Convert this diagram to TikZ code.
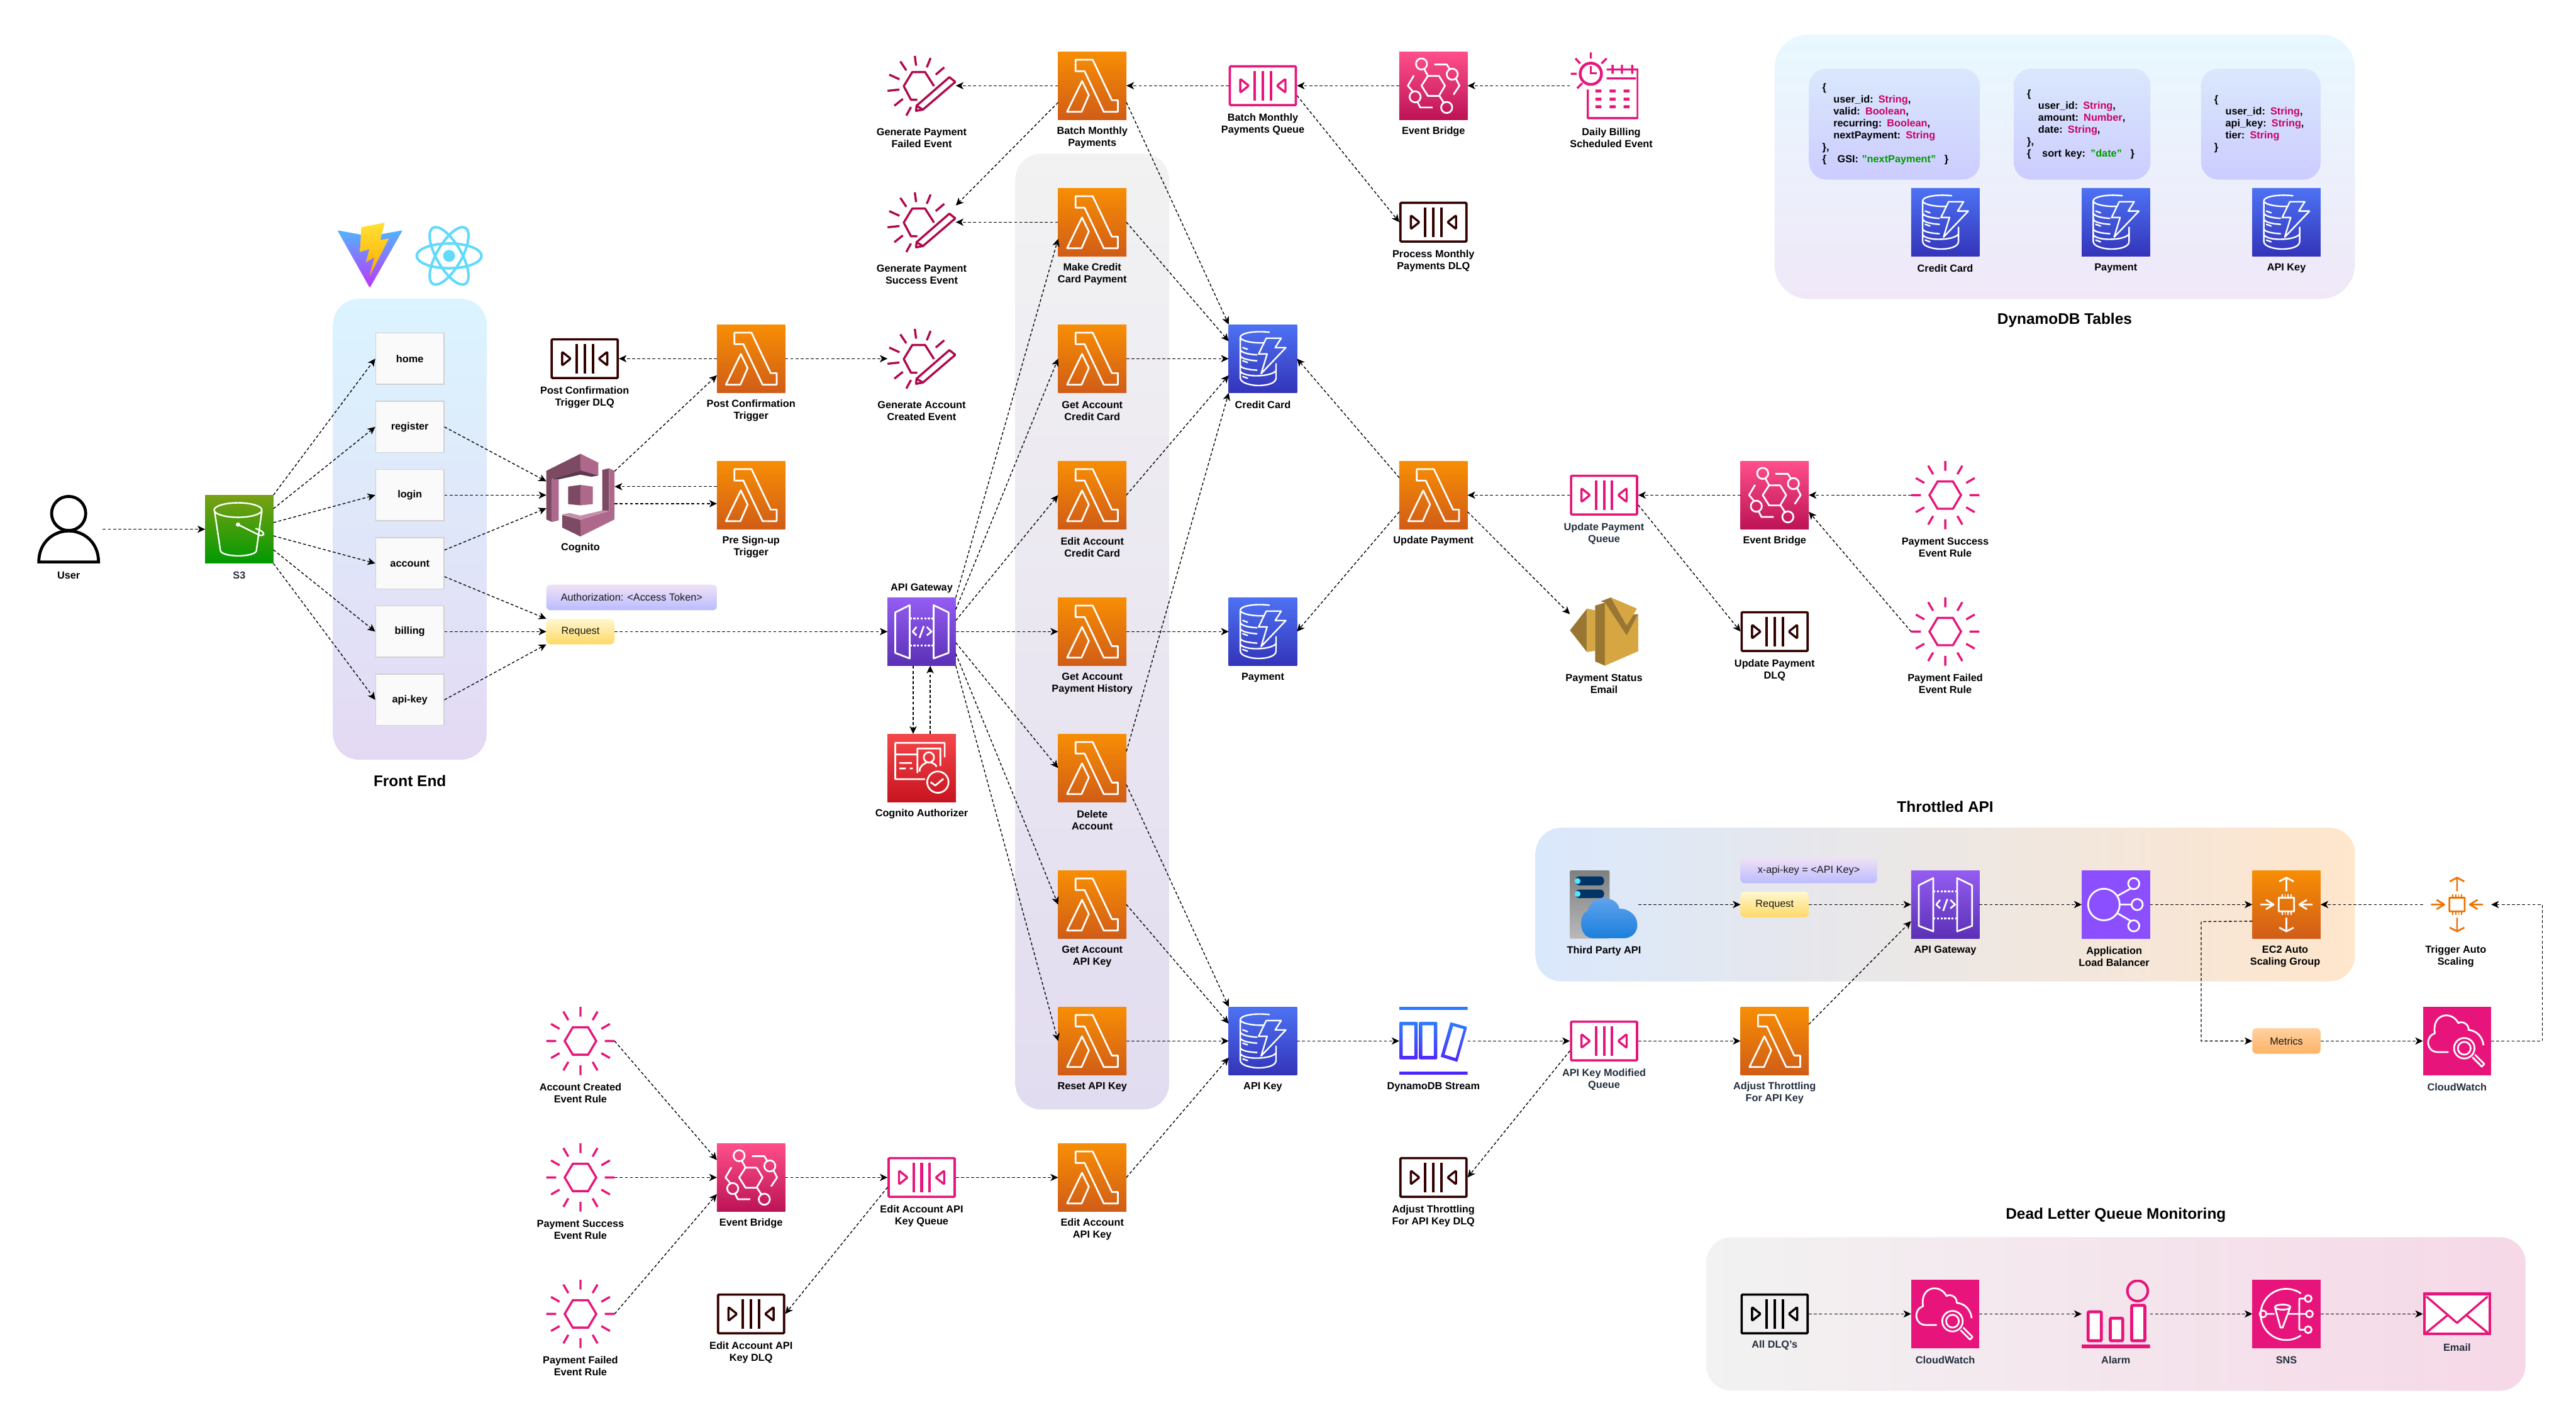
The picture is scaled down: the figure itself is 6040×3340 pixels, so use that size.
\documentclass[tikz,border=0pt]{standalone}
\usepackage{fontspec}
\setmainfont{Liberation Sans}
\usetikzlibrary{arrows.meta,shadings}

\definecolor{lamtop}{HTML}{F78E04}
\definecolor{lambot}{HTML}{D05C17}
\definecolor{ddbtop}{HTML}{4D72F3}
\definecolor{ddbbot}{HTML}{3334B9}
\definecolor{ebtop}{HTML}{FF4F8B}
\definecolor{ebbot}{HTML}{BC1356}
\definecolor{gwtop}{HTML}{945DF2}
\definecolor{gwbot}{HTML}{5A30B5}
\definecolor{s3top}{HTML}{7AA116}
\definecolor{s3bot}{HTML}{009900}
\definecolor{authtop}{HTML}{F54749}
\definecolor{authbot}{HTML}{C7131F}
\definecolor{albpurple}{HTML}{8C4FFF}
\definecolor{mgmtpink}{HTML}{E7157B}
\definecolor{genred}{HTML}{B0084D}
\definecolor{dlqred}{HTML}{330000}
\definecolor{scaleorange}{HTML}{ED7100}
\definecolor{navytext}{HTML}{232F3E}
\definecolor{cogdark}{HTML}{7D4A63}
\definecolor{coglight}{HTML}{AD688B}
\definecolor{cogpale}{HTML}{C58FAC}
\definecolor{cogshade}{HTML}{5C3A4E}
\definecolor{sesdark}{HTML}{997732}
\definecolor{seslight}{HTML}{D5A642}
\definecolor{reactblue}{HTML}{61DAFB}
\definecolor{keycolor}{HTML}{CC0066}
\definecolor{sortcolor}{HTML}{009900}
\definecolor{streamtop}{HTML}{2E7BFF}
\definecolor{streambot}{HTML}{4D27FF}
\definecolor{vitetop}{HTML}{52B4FF}
\definecolor{vitemid}{HTML}{8E75FA}
\definecolor{vitebot}{HTML}{BD34FE}
\definecolor{bolttop}{HTML}{FFE135}
\definecolor{boltbot}{HTML}{FFA800}
\definecolor{reqtop}{HTML}{FFF7CF}
\definecolor{reqbot}{HTML}{FFD966}
\definecolor{notetop}{HTML}{F0E2F5}
\definecolor{notebot}{HTML}{BBBBFF}
\definecolor{tabletop}{HTML}{DAE8FC}
\definecolor{tablebot}{HTML}{CCCCFF}
\definecolor{pilldark}{HTML}{003366}
\definecolor{pillcyan}{HTML}{4DE8FF}
\definecolor{cloudtop}{HTML}{66A6F0}
\definecolor{cloudbot}{HTML}{1B7FDB}
\definecolor{frontbot}{HTML}{E4D9F3}
\definecolor{frontop}{HTML}{DBF4FF}
\definecolor{fntop}{HTML}{F2F2F2}
\definecolor{fnbot}{HTML}{E2DCF0}
\definecolor{dbtop}{HTML}{E8F8FF}
\definecolor{dbbot}{HTML}{F0E8F8}
\definecolor{throttleright}{HTML}{FFE6CC}
\definecolor{dlqright}{HTML}{F6D8E7}
\definecolor{metricstop}{HTML}{FFD0A0}
\definecolor{metricsbot}{HTML}{FFB366}

\tikzset{
  pics/lambdaglyph/.style={code={
    \draw[white,line width=.04cm,line join=round]
      (-39,-61) -- (1,-61) -- (46,34) -- (60,34) -- (60,61) -- (27,61) -- (-18,-34) -- (-39,-34) -- cycle
      (-24,-11) -- (-8,22) -- (-25,61) -- (-59,61) -- cycle;
  }},
  pics/ddbglyph/.style={code={
    \draw[white,line width=.035cm,line join=round,line cap=round]
      (15,-62) .. controls (-20,-66) and (-53,-60) .. (-53,-50) .. controls (-53,-42) and (-25,-36) .. (3,-37)
      (-53,-50) -- (-53,45) .. controls (-53,58) and (-25,63) .. (-11,63) .. controls (10,63) and (31,58) .. (31,45) -- (31,12)
      (-53,-22) .. controls (-53,-15) and (-35,-10) .. (-14,-9)
      (-53,-8) .. controls (-53,-1) and (-35,4) .. (-14,5)
      (-53,15) .. controls (-53,22) and (-35,26) .. (-14,27)
      (-53,28) .. controls (-53,36) and (-30,41) .. (-12,40) .. controls (5,40) and (25,36) .. (31,28)
      (-47,-26) -- (-36,-22) (-47,5) -- (-36,9) (-47,42) -- (-36,46)
      (8,-48) -- (43,-48) -- (29,-26) -- (54,-26) -- (-4,35) -- (10,-11) -- (-10,-11) -- cycle;
  }},
  pics/ebglyph/.style={code={
    \draw[white,line width=.04cm,line join=round]
      (-28,0) -- (-13,-23) -- (13,-23) -- (27,0) -- (13,24) -- (-13,24) -- cycle
      (-28,-51) circle [radius=13] (44,-27) circle [radius=13]
      (-43,26) circle [radius=13] (31,51) circle [radius=13]
      (-13,-23) -- (-21,-38) (14,24) -- (23,38)
      (2,-50) -- (31,-50) -- (38,-39) (53,-16) -- (61,0) -- (47,21)
      (-46,-24) -- (-60,0) -- (-48,14) (-38,37) -- (-31,51) -- (-2,51);
  }},
  pics/queueglyph/.style={code={
    \draw[#1,line width=.06cm] (-19,-35) -- (-19,35) (0,-35) -- (0,35) (19,-35) -- (19,35);
    \draw[#1,line width=.05cm,line join=round]
      (-53,-16) -- (-33,0) -- (-53,16) -- cycle (53,-16) -- (33,0) -- (53,16) -- cycle;
  }},
  pics/ruleglyph/.style={code={
    \draw[mgmtpink,line width=.05cm]
      (-37,0) -- (-18,-32) -- (18,-32) -- (37,0) -- (18,32) -- (-18,32) -- cycle
      (0,-80) -- (0,-57) (40,-69) -- (28.5,-49) (69,-40) -- (49,-28.5) (80,0) -- (57,0)
      (69,40) -- (49,28.5) (40,69) -- (28.5,49) (0,80) -- (0,57) (-40,69) -- (-28.5,49)
      (-69,40) -- (-49,28.5) (-80,0) -- (-57,0) (-69,-40) -- (-49,-28.5) (-40,-69) -- (-28.5,-49);
  }},
  pics/genglyph/.style={code={
    \draw[genred,line width=.05cm,line join=round]
      (-10,33) -- (-25,33) -- (-42,1) -- (-22,-32) -- (8,-32) -- (29,1)
      (-16,-70) -- (-13,-47) (21,-65) -- (12,-43) (53,-43) -- (33,-26) (-50,-57) -- (-36,-36)
      (-76,-26) -- (-52,-15) (-80,12) -- (-52,9) (-64,47) -- (-44,31) (-36,70) -- (-25,50)
      (65,-20) -- (79,-9) -- (3,56) -- (-13,59) -- (-12,47) -- cycle (-12,47) -- (3,56);
  }},
  pics/dailyglyph/.style={code={
    \draw[mgmtpink,line width=.065cm] (-31,-28) circle [radius=25];
    \draw[mgmtpink,line width=.05cm] (-31,-46) -- (-31,-29) -- (-17,-29);
    \draw[mgmtpink,line width=.05cm,line join=round]
      (-31,-78) -- (-31,-64) (-67,-64) -- (-56,-52) (6,-64) -- (-6,-52) (-78,-28) -- (-64,-28) (-63,6) -- (-51,-6)
      (6,-38) -- (79,-38) -- (79,76) -- (-38,76) -- (-38,9) (6,-17) -- (75,-17)
      (20,-49) -- (20,-28) (42,-49) -- (42,-28) (66,-49) -- (66,-28);
    \fill[mgmtpink]
      (-20,9) rectangle (-6,16) (13,9) rectangle (27,16) (46,9) rectangle (60,16)
      (-20,28) rectangle (-6,35) (13,28) rectangle (27,35) (46,28) rectangle (60,35)
      (-20,46) rectangle (-6,53) (13,46) rectangle (27,53) (46,46) rectangle (60,53);
  }},
  pics/s3glyph/.style={code={
    \draw[white,line width=.035cm]
      (-3,-45) ellipse [x radius=56,y radius=17]
      (-58,-43) -- (-44,51) .. controls (-38,66) and (34,66) .. (40,51) -- (53,-43)
      (-3,-11) -- (45,13) .. controls (58,18) and (62,10) .. (50,3) -- (38,-2);
    \fill[white] (-3,-11) circle [radius=5];
  }},
  pics/userglyph/.style={code={
    \draw[black,line width=.07cm]
      (0,-37) circle [radius=40]
      (-70,77) .. controls (-70,30) and (-35,4) .. (0,4) .. controls (35,4) and (70,30) .. (70,77) -- cycle;
  }},
  pics/cognitoglyph/.style={code={
    \fill[cogdark] (-80,-57) -- (0,-97) -- (0,-58) -- (-67,-38) -- (-67,63) -- (-80,57) -- cycle;
    \fill[coglight] (0,-97) -- (42,-76) -- (42,-46) -- (0,-58) -- cycle;
    \fill[cogshade] (0,-58) -- (42,-46) -- (26,-43) -- (0,-48) -- (-51,-37) -- (-67,-38) -- cycle;
    \fill[coglight] (-67,-38) -- (-51,-37) -- (-51,59) -- (-67,63) -- cycle;
    \fill[cogdark] (-29,-20) -- (0,-24) -- (0,24) -- (-29,21) -- cycle;
    \fill[coglight] (0,-24) -- (29,-20) -- (29,21) -- (0,24) -- cycle;
    \fill[cogdark] (51,-59) -- (67,-63) -- (67,37) -- (51,36) -- cycle;
    \fill[coglight] (67,-63) -- (80,-57) -- (80,57) -- (0,97) -- (0,58) -- (67,37) -- cycle;
    \fill[cogdark] (-43,46) -- (0,58) -- (0,97) -- (-43,76) -- cycle;
    \fill[cogpale] (-43,45) -- (-25,42) -- (0,48) -- (51,36) -- (67,37) -- (0,58) -- cycle;
  }},
  pics/sesglyph/.style={code={
    \fill[sesdark] (-80,-3) -- (-40,-54) -- (-40,48) -- cycle;
    \fill[seslight] (-40,-54) -- (-21,-50) -- (-21,45) -- (-40,48) -- cycle;
    \fill[sesdark] (-21,-61) -- (2,-68) -- (2,80) -- (-21,70) -- cycle;
    \fill[seslight] (2,-68) -- (53,9) -- (80,-41) -- (80,46) -- (2,80) -- cycle;
    \fill[sesdark] (-8,-71) -- (16,-80) -- (53,-15) -- (69,-40) -- (80,-41) -- (53,9) -- (2,-68) -- cycle;
    \fill[seslight] (16,-80) -- (77,-54) -- (69,-40) -- (53,-15) -- cycle;
  }},
  pics/gwglyph/.style={code={
    \draw[white,line width=.04cm,line join=round]
      (-28,-62) -- (-28,63) -- (-62,50) -- (-62,-45) -- cycle
      (28,-62) -- (63,-45) -- (63,50) -- (28,63) -- cycle
      (-12,-11) -- (-21,0) -- (-12,9) (5,-13) -- (-5,15) (12,-11) -- (23,0) -- (12,9);
    \draw[white,line width=.05cm,dash pattern=on .05cm off .035cm]
      (-28,-31) -- (28,-31) (-28,33) -- (28,33);
  }},
  pics/authglyph/.style={code={
    \draw[white,line width=.04cm,line join=round]
      (54,-25) -- (54,-59) -- (-62,-59) -- (-62,26) -- (8,26)
      (-62,-32) -- (-10,-32) (-52,-12) -- (-23,-12) (-52,1) -- (-37,1) (-28,1) -- (-21,1)
      (-10,12) -- (-10,-46) -- (44,-46) -- (44,-5)
      (17,-25) circle [radius=12]
      (-5,8) .. controls (-5,-5) and (5,-10) .. (12,-13) (22,-13) .. controls (30,-10) and (34,-7) .. (35,-3)
      (38,33) circle [radius=25]
      (21,33) -- (32,41) -- (51,25);
  }},
  pics/asgglyph/.style={code={
    \draw[#1,line width=.04cm,line join=round]
      (-18,-16) rectangle (18,16)
      (0,-63) -- (0,-31) (-17,-54) -- (0,-63) -- (17,-54)
      (0,63) -- (0,31) (-17,54) -- (0,63) -- (17,54)
      (-61,0) -- (-30,0) (-48,-11) -- (-30,0) -- (-48,11)
      (61,0) -- (30,0) (48,-11) -- (30,0) -- (48,11);
    \draw[#1,line width=.025cm]
      (-10,-16) -- (-10,-24) (-3,-16) -- (-3,-24) (4,-16) -- (4,-24) (11,-16) -- (11,-24)
      (-10,16) -- (-10,24) (-3,16) -- (-3,24) (4,16) -- (4,24) (11,16) -- (11,24);
  }},
  pics/albglyph/.style={code={
    \draw[white,line width=.04cm]
      (-28,0) circle [radius=37] (42,-49) circle [radius=13]
      (50,0) circle [radius=13] (42,50) circle [radius=13]
      (8,0) -- (37,0) (3,-20) -- (34,-37) (3,20) -- (34,38);
  }},
  pics/cwglyph/.style={code={
    \draw[white,line width=.04cm,line join=round]
      (-20,26) -- (-45,26) .. controls (-72,26) and (-76,-10) .. (-52,-18)
      .. controls (-60,-65) and (-12,-72) .. (3,-42) .. controls (12,-48) and (28,-40) .. (27,-26)
      .. controls (48,-24) and (60,-8) .. (62,10)
      (17,17) circle [radius=24] (17,17) circle [radius=15]
      (36,38) -- (58,60) -- (64,54) -- (42,32);
  }},
  pics/snsglyph/.style={code={
    \draw[white,line width=.04cm,line join=round]
      (34,-48) arc [start angle=-55,end angle=-305,radius=60]
      (-55,0) circle [radius=8] (-47,0) -- (-28,0)
      (-9,-16) ellipse [x radius=18,y radius=6]
      (-27,-16) -- (-14,32) -- (-9,32) -- (9,-16)
      (4,0) -- (46,0) (30,-36) -- (30,37) (30,-36) -- (43,-36) (30,37) -- (43,37)
      (51,-36) circle [radius=8] (54,0) circle [radius=8] (51,37) circle [radius=8];
  }},
  pics/alarmglyph/.style={code={
    \draw[mgmtpink,line width=.06cm] (51,-54) circle [radius=24];
    \draw[mgmtpink,line width=.07cm,fill=white,rounded corners=.03cm]
      (-65,-5) rectangle (-34,63) (-13,10) rectangle (16,63) (37,-20) rectangle (68,63);
    \fill[mgmtpink] (-80,72) rectangle (80,80);
  }},
  pics/envelopeglyph/.style={code={
    \draw[mgmtpink,line width=.05cm,line join=round]
      (-72,-41) -- (0,21) -- (72,-41) (-72,44) -- (-20,1) (72,44) -- (20,1);
  }},
  pics/streamglyph/.style={code={
    \fill[streamtop] (-80,-81) rectangle (80,-73);
    \fill[streambot] (-80,71) rectangle (80,79);
    \path[even odd rule,top color=streamtop,bottom color=streambot]
      (-80,-45) [rounded corners=.03cm] rectangle (-37,43) [sharp corners] (-72,-37) rectangle (-45,35);
    \path[even odd rule,top color=streamtop,bottom color=streambot]
      (-34,-45) [rounded corners=.03cm] rectangle (9,43) [sharp corners] (-26,-37) rectangle (1,35);
    \path[even odd rule,top color=streamtop,bottom color=streambot]
      (40,-44) -- (79,-33) -- (56,49) -- (17,37) -- cycle
      (46,-35) -- (71,-28) -- (52,40) -- (26,32) -- cycle;
  }},
  pics/thirdglyph/.style={code={
    \path[rounded corners=.03cm,top color=gray,bottom color=gray!55] (-80,-80) rectangle (13,80);
    \fill[pilldark,rounded corners=.08cm] (-67,-66) rectangle (0,-45) (-67,-35) rectangle (0,-15);
    \fill[pillcyan] (-62,-55) circle [radius=7] (-62,-25) circle [radius=7];
    \path[top color=cloudtop,bottom color=cloudbot]
      (-25,79) .. controls (-62,79) and (-60,20) .. (-38,15) .. controls (-34,-24) and (30,-24) .. (36,10)
      .. controls (50,8) and (78,20) .. (78,48) .. controls (78,70) and (60,79) .. (47,79) -- cycle;
  }},
  pics/viteglyph/.style={code={
    \path[rounded corners=.03cm,top color=vitetop,middle color=vitemid,bottom color=vitebot]
      (-77,-60) -- (-1,-46) -- (76,-60) -- (-1,75) -- cycle;
    \path[top color=bolttop,bottom color=boltbot]
      (-21,-67) -- (34,-78) -- (24,-37) -- (44,-41) -- (-2,49) -- (10,3) -- (-10,15) -- (-2,-16) -- (-24,-9) -- cycle;
  }},
  pics/reactglyph/.style={code={
    \draw[reactblue,line width=.06cm]
      (0,0) ellipse [x radius=76,y radius=29]
      [rotate=60] (0,0) ellipse [x radius=76,y radius=29];
    \draw[reactblue,line width=.06cm,rotate=-60] (0,0) ellipse [x radius=76,y radius=29];
    \fill[reactblue] (0,0) circle [radius=14];
  }},
  iconbox/.style={rectangle,inner sep=0pt,outer sep=0pt,minimum width=1.6cm,minimum height=1.6cm},
  glyphicon/.style={iconbox,path picture={\pic at (path picture bounding box.center) {#1};}},
  lambdaicon/.style={glyphicon=lambdaglyph,top color=lamtop,bottom color=lambot},
  ddbicon/.style={glyphicon=ddbglyph,top color=ddbtop,bottom color=ddbbot},
  ebicon/.style={glyphicon=ebglyph,top color=ebtop,bottom color=ebbot},
  gwicon/.style={glyphicon=gwglyph,top color=gwtop,bottom color=gwbot},
  queueicon/.style={glyphicon={queueglyph=#1},draw=#1,line width=.053cm,rounded corners=.02cm,
    minimum width=1.547cm,minimum height=.907cm,outer sep=.0265cm},
  pagebox/.style={rectangle,draw=black!18,fill=white!98!black,line width=.02cm,minimum width=1.6cm,minimum height=1.2cm,
    font=\fontsize{6.83}{7.97}\selectfont\bfseries},
  notebox/.style={rectangle,rounded corners=.1cm,inner sep=0pt,outer sep=0pt,minimum height=.6cm,
    text=black!90,font=\fontsize{6.83}{7.97}\selectfont},
  reqbox/.style={notebox,top color=reqtop,bottom color=reqbot,minimum width=1.6cm},
  authbox/.style={notebox,top color=notetop,bottom color=notebot},
  panel/.style={rectangle,inner sep=0pt,outer sep=0pt,rounded corners=.6cm},
  tablebox/.style={rectangle,rounded corners=.4cm,top color=tabletop,bottom color=tablebot,inner sep=0pt,
    minimum height=2.6cm,align=left,font=\fontsize{6.83}{7.97}\selectfont\bfseries},
  lbl/.style={align=center,inner sep=0pt,font=\fontsize{6.83}{7.97}\selectfont\bfseries},
  navylbl/.style={lbl,text=navytext},
  titlelbl/.style={align=center,inner sep=0pt,font=\fontsize{10.24}{12}\selectfont\bfseries},
  conn/.style={-{Stealth[length=.18cm,width=.17cm,inset=.05cm]},line width=.02cm,dash pattern=on .07cm off .05cm}
}

\newcommand{\keytype}[1]{\textcolor{keycolor}{#1}}
\newcommand{\sortname}[1]{\textcolor{sortcolor}{#1}}
\newcommand{\fieldgap}{\hspace*{.26cm}}

\begin{document}
\begin{tikzpicture}[x=.01cm,y=-.01cm]
  \useasboundingbox (0,0) rectangle (6040,3340);

  % panels
  \node[panel,minimum width=3.6cm,minimum height=10.8cm,top color=frontop,bottom color=frontbot] (frontpanel) at (961,1241) {};
  \node[panel,minimum width=3.6cm,minimum height=22.4cm,top color=fntop,bottom color=fnbot] (fnpanel) at (2561,1481) {};
  \node[panel,rounded corners=.8cm,minimum width=13.6cm,minimum height=6.2cm,top color=dbtop,bottom color=dbbot] (dbpanel) at (4841,391) {};
  \node[panel,minimum width=19.2cm,minimum height=3.6cm,left color=tabletop,right color=throttleright] (throttlepanel) at (4561,2121) {};
  \node[panel,minimum width=19.2cm,minimum height=3.6cm,left color=fntop,right color=dlqright] (dlqpanel) at (4961,3081) {};

  % front end
  \node[glyphicon=userglyph,minimum width=1.6cm] (user) at (161,1241) {};
  \node[lbl] (userl) at (161,1349) {User};
  \node[glyphicon=s3glyph,top color=s3top,bottom color=s3bot] (s3) at (561,1241) {};
  \node[navylbl] (s3l) at (561,1349) {S3};
  \node[glyphicon=viteglyph] (vite) at (868,600) {};
  \node[glyphicon=reactglyph] (react) at (1053,600) {};
  \node[pagebox] (home) at (961,841) {home};
  \node[pagebox] (register) at (961,1001) {register};
  \node[pagebox] (login) at (961,1161) {login};
  \node[pagebox] (account) at (961,1321) {account};
  \node[pagebox] (billing) at (961,1481) {billing};
  \node[pagebox] (apikeypg) at (961,1641) {api-key};
  \node[titlelbl] (frontl) at (961,1831) {Front End};

  % cognito side
  \node[queueicon=dlqred] (pcdlq) at (1371,841) {};
  \node[lbl] (pcdlql) at (1371,931) {Post Confirmation\\Trigger DLQ};
  \node[glyphicon=cognitoglyph,minimum height=1.94cm] (cognito) at (1361,1161) {};
  \node[lbl] (cognitol) at (1361,1285) {Cognito};
  \node[authbox,minimum width=4cm] (authnote) at (1481,1401) {Authorization: <Access Token>};
  \node[reqbox] (request) at (1361,1481) {Request};
  \node[lambdaicon] (postconf) at (1761,841) {};
  \node[lbl] (postconfl) at (1761,963) {Post Confirmation\\Trigger};
  \node[lambdaicon] (presign) at (1761,1161) {};
  \node[lbl] (presignl) at (1761,1283) {Pre Sign-up\\Trigger};
  \node[lbl] (apigwl) at (2161,1380) {API Gateway};
  \node[gwicon] (apigw) at (2161,1481) {};
  \node[glyphicon=authglyph,top color=authtop,bottom color=authbot] (authorizer) at (2161,1801) {};
  \node[lbl] (authorizerl) at (2161,1909) {Cognito Authorizer};

  % events
  \node[glyphicon=genglyph] (genfail) at (2161,201) {};
  \node[lbl] (genfaill) at (2161,323) {Generate Payment\\Failed Event};
  \node[glyphicon=genglyph] (gensucc) at (2161,521) {};
  \node[lbl] (gensuccl) at (2161,643) {Generate Payment\\Success Event};
  \node[glyphicon=genglyph] (genacct) at (2161,841) {};
  \node[lbl] (genacctl) at (2161,963) {Generate Account\\Created Event};

  % functions
  \node[lambdaicon] (batchfn) at (2561,201) {};
  \node[lbl] (batchfnl) at (2561,323) {Batch Monthly\\Payments};
  \node[lambdaicon] (makepay) at (2561,521) {};
  \node[lbl] (makepayl) at (2561,643) {Make Credit\\Card Payment};
  \node[lambdaicon] (getcc) at (2561,841) {};
  \node[lbl] (getccl) at (2561,963) {Get Account\\Credit Card};
  \node[lambdaicon] (editcc) at (2561,1161) {};
  \node[lbl] (editccl) at (2561,1283) {Edit Account\\Credit Card};
  \node[lambdaicon] (history) at (2561,1481) {};
  \node[lbl] (historyl) at (2561,1603) {Get Account\\Payment History};
  \node[lambdaicon] (delete) at (2561,1801) {};
  \node[lbl] (deletel) at (2561,1923) {Delete\\Account};
  \node[lambdaicon] (getapi) at (2561,2121) {};
  \node[lbl] (getapil) at (2561,2243) {Get Account\\API Key};
  \node[lambdaicon] (resetapi) at (2561,2441) {};
  \node[lbl] (resetapil) at (2561,2549) {Reset API Key};
  \node[lambdaicon] (editapi) at (2561,2761) {};
  \node[lbl] (editapil) at (2561,2883) {Edit Account\\API Key};

  % tables in the flow
  \node[ddbicon] (creditcard) at (2961,841) {};
  \node[lbl] (creditcardl) at (2961,949) {Credit Card};
  \node[ddbicon] (payment) at (2961,1481) {};
  \node[lbl] (paymentl) at (2961,1589) {Payment};
  \node[ddbicon] (apikey) at (2961,2441) {};
  \node[lbl] (apikeyl) at (2961,2549) {API Key};

  % billing row
  \node[queueicon=mgmtpink] (batchq) at (2961,201) {};
  \node[lbl] (batchql) at (2961,291) {Batch Monthly\\Payments Queue};
  \node[ebicon] (billbus) at (3361,201) {};
  \node[lbl] (billbusl) at (3361,309) {Event Bridge};
  \node[glyphicon=dailyglyph] (daily) at (3761,201) {};
  \node[lbl] (dailyl) at (3778,323) {Daily Billing\\Scheduled Event};
  \node[queueicon=dlqred] (pmdlq) at (3361,521) {};
  \node[lbl] (pmdlql) at (3361,611) {Process Monthly\\Payments DLQ};

  % update payment row
  \node[lambdaicon] (update) at (3361,1161) {};
  \node[lbl] (updatel) at (3361,1269) {Update Payment};
  \node[queueicon=mgmtpink] (updq) at (3761,1161) {};
  \node[navylbl] (updql) at (3761,1251) {Update Payment\\Queue};
  \node[ebicon] (updbus) at (4161,1161) {};
  \node[lbl] (updbusl) at (4161,1269) {Event Bridge};
  \node[glyphicon=ruleglyph] (succrule) at (4561,1161) {};
  \node[lbl] (succrulel) at (4561,1283) {Payment Success\\Event Rule};
  \node[glyphicon=ruleglyph] (failrule) at (4561,1481) {};
  \node[lbl] (failrulel) at (4561,1603) {Payment Failed\\Event Rule};
  \node[glyphicon=sesglyph] (ses) at (3761,1481) {};
  \node[lbl] (sesl) at (3761,1603) {Payment Status\\Email};
  \node[queueicon=dlqred] (upddlq) at (4161,1481) {};
  \node[lbl] (upddlql) at (4161,1571) {Update Payment\\DLQ};

  % dynamodb tables
  \node[tablebox,minimum width=4cm,text width=3.38cm] (cardtable) at (4442,291) {
    \{\\
    \fieldgap user\_id: \keytype{String},\\
    \fieldgap valid: \keytype{Boolean},\\
    \fieldgap recurring: \keytype{Boolean},\\
    \fieldgap nextPayment: \keytype{String}\\
    \},\\
    \{\fieldgap GSI: \sortname{"nextPayment"}\hspace*{.2cm}\}};
  \node[tablebox,minimum width=3.2cm,text width=2.58cm] (paytable) at (4882,291) {
    \{\\
    \fieldgap user\_id: \keytype{String},\\
    \fieldgap amount: \keytype{Number},\\
    \fieldgap date: \keytype{String},\\
    \},\\
    \{\fieldgap sort key: \sortname{"date"}\hspace*{.2cm}\}};
  \node[tablebox,minimum width=2.8cm,text width=2.18cm] (keytable) at (5301,291) {
    \{\\
    \fieldgap user\_id: \keytype{String},\\
    \fieldgap api\_key: \keytype{String},\\
    \fieldgap tier: \keytype{String}\\
    \}};
  \node[ddbicon] (cardtableicon) at (4561,521) {};
  \node[lbl] (cardtablel) at (4561,629) {Credit Card};
  \node[ddbicon] (paytableicon) at (4961,521) {};
  \node[lbl] (paytablel) at (4961,629) {Payment};
  \node[ddbicon] (keytableicon) at (5361,521) {};
  \node[lbl] (keytablel) at (5361,629) {API Key};
  \node[titlelbl] (dbl) at (4841,751) {DynamoDB Tables};

  % throttled api
  \node[titlelbl] (throttlel) at (4561,1891) {Throttled API};
  \node[glyphicon=thirdglyph] (thirdparty) at (3761,2121) {};
  \node[lbl] (thirdpartyl) at (3761,2230) {Third Party API};
  \node[authbox,minimum width=3.2cm] (keynote) at (4241,2041) {x-api-key = <API Key>};
  \node[reqbox] (request2) at (4161,2121) {Request};
  \node[gwicon] (apigw2) at (4561,2121) {};
  \node[lbl] (apigw2l) at (4561,2229) {API Gateway};
  \node[glyphicon=albglyph,fill=albpurple] (alb) at (4961,2121) {};
  \node[lbl] (albl) at (4957,2243) {Application\\Load Balancer};
  \node[glyphicon={asgglyph=white},top color=lamtop,bottom color=lambot] (asg) at (5361,2121) {};
  \node[lbl] (asgl) at (5358,2243) {EC2 Auto\\Scaling Group};
  \node[glyphicon={asgglyph=scaleorange}] (trigger) at (5761,2121) {};
  \node[lbl] (triggerl) at (5758,2243) {Trigger Auto\\Scaling};
  \node[notebox,minimum width=1.6cm,top color=metricstop,bottom color=metricsbot] (metrics) at (5361,2441) {Metrics};
  \node[glyphicon=cwglyph,fill=mgmtpink] (cloudwatch) at (5761,2441) {};
  \node[navylbl] (cloudwatchl) at (5761,2549) {CloudWatch};
  \coordinate (asgbend) at (5161,2161);
  \coordinate (cwbend) at (5961,2121);

  % stream row
  \node[glyphicon=streamglyph] (stream) at (3361,2441) {};
  \node[lbl] (streaml) at (3361,2549) {DynamoDB Stream};
  \node[queueicon=mgmtpink] (apiq) at (3761,2441) {};
  \node[navylbl] (apiql) at (3761,2531) {API Key Modified\\Queue};
  \node[lambdaicon] (adjust) at (4161,2441) {};
  \node[navylbl] (adjustl) at (4161,2563) {Adjust Throttling\\For API Key};
  \node[queueicon=dlqred] (adjdlq) at (3361,2761) {};
  \node[lbl] (adjdlql) at (3361,2851) {Adjust Throttling\\For API Key DLQ};

  % edit account row
  \node[glyphicon=ruleglyph] (acctrule) at (1361,2441) {};
  \node[lbl] (acctrulel) at (1361,2563) {Account Created\\Event Rule};
  \node[glyphicon=ruleglyph] (paysucc) at (1361,2761) {};
  \node[lbl] (paysuccl) at (1361,2883) {Payment Success\\Event Rule};
  \node[glyphicon=ruleglyph] (payfail) at (1361,3081) {};
  \node[lbl] (payfaill) at (1361,3203) {Payment Failed\\Event Rule};
  \node[ebicon] (editbus) at (1761,2761) {};
  \node[lbl] (editbusl) at (1761,2869) {Event Bridge};
  \node[queueicon=mgmtpink] (editq) at (2161,2761) {};
  \node[lbl] (editql) at (2161,2851) {Edit Account API\\Key Queue};
  \node[queueicon=dlqred] (editdlq) at (1761,3081) {};
  \node[lbl] (editdlql) at (1761,3171) {Edit Account API\\Key DLQ};

  % dead letter queue monitoring
  \node[titlelbl] (dlql) at (4961,2849) {Dead Letter Queue Monitoring};
  \node[queueicon=black] (alldlq) at (4161,3081) {};
  \node[navylbl] (alldlql) at (4161,3154) {All DLQ's};
  \node[glyphicon=cwglyph,fill=mgmtpink] (cloudwatch2) at (4561,3081) {};
  \node[navylbl] (cloudwatch2l) at (4561,3189) {CloudWatch};
  \node[glyphicon=alarmglyph] (alarm) at (4961,3081) {};
  \node[navylbl] (alarml) at (4961,3189) {Alarm};
  \node[glyphicon=snsglyph,fill=mgmtpink] (sns) at (5361,3081) {};
  \node[navylbl] (snsl) at (5361,3189) {SNS};
  \node[glyphicon=envelopeglyph,draw=mgmtpink,fill=white,line width=.06cm,minimum width=1.54cm,minimum height=.94cm,outer sep=.03cm] (email) at (5761,3081) {};
  \node[navylbl] (emaill) at (5761,3159) {Email};

  % connectors
  \draw[conn] (user) -- (s3);
  \draw[conn] (s3.45) -- (home.west);
  \draw[conn] (s3.31) -- (register.west);
  \draw[conn] (s3.11.3) -- (login.west);
  \draw[conn] (s3.-11.3) -- (account.west);
  \draw[conn] (s3.-31) -- (billing.west);
  \draw[conn] (s3.-45) -- (apikeypg.west);
  \draw[conn] (register.east) -- (cognito.158.8);
  \draw[conn] (login.east) -- (cognito.west);
  \draw[conn] (account.21.2) -- (cognito.201.2);
  \draw[conn] (account.-21.2) -- (request.north west);
  \draw[conn] (billing.east) -- (request.west);
  \draw[conn] (apikeypg.east) -- (request.south west);
  \draw[conn] (cognito.35.5) -- (postconf.206.6);
  \draw[conn] (presign.166) -- (cognito.14.7);
  \draw[conn] (cognito.-14.7) -- (presign.194);
  \draw[conn] (postconf.west) -- (pcdlq.east);
  \draw[conn] (postconf.east) -- (genacct.west);
  \draw[conn] (request.east) -- (apigw.west);
  \draw[conn] (apigw.-104) -- (authorizer.104);
  \draw[conn] (authorizer.76) -- (apigw.-76);
  \draw[conn] (apigw.45) -- (makepay.206.6);
  \draw[conn] (apigw.33.7) -- (getcc.west);
  \draw[conn] (apigw.18.4) -- (editcc.west);
  \draw[conn] (apigw.east) -- (history.west);
  \draw[conn] (apigw.-18.4) -- (delete.west);
  \draw[conn] (apigw.-33.7) -- (getapi.west);
  \draw[conn] (apigw.-45) -- (resetapi.west);
  \draw[conn] (batchfn.west) -- (genfail.east);
  \draw[conn] (batchfn.206.6) -- (gensucc.26.6);
  \draw[conn] (makepay.west) -- (gensucc.east);
  \draw[conn] (batchfn.-26.6) -- (creditcard.north west);
  \draw[conn] (makepay.east) -- (creditcard.153.4);
  \draw[conn] (getcc.east) -- (creditcard.west);
  \draw[conn] (editcc.east) -- (creditcard.206.6);
  \draw[conn] (delete.26.6) -- (creditcard.south west);
  \draw[conn] (history.east) -- (payment.west);
  \draw[conn] (delete.-26.6) -- (apikey.north west);
  \draw[conn] (getapi.east) -- (apikey.153.4);
  \draw[conn] (resetapi.east) -- (apikey.west);
  \draw[conn] (editapi.east) -- (apikey.206.6);
  \draw[conn] (batchq.west) -- (batchfn.east);
  \draw[conn] (billbus.west) -- (batchq.east);
  \draw[conn] (daily.west) -- (billbus.east);
  \draw[conn] (batchq.-16.7) -- (pmdlq.west);
  \draw[conn] (update.153.4) -- (creditcard.east);
  \draw[conn] (update.206.6) -- (payment.east);
  \draw[conn] (update.-26.6) -- (ses.153.4);
  \draw[conn] (updq.west) -- (update.east);
  \draw[conn] (updq.-16.7) -- (upddlq.west);
  \draw[conn] (updbus.west) -- (updq.east);
  \draw[conn] (succrule.west) -- (updbus.east);
  \draw[conn] (failrule.west) -- (updbus.-26.6);
  \draw[conn] (apikey.east) -- (stream.west);
  \draw[conn] (stream.east) -- (apiq.west);
  \draw[conn] (apiq.east) -- (adjust.west);
  \draw[conn] (apiq.196.7) -- (adjdlq.east);
  \draw[conn] (adjust.26.6) -- (apigw2.206.6);
  \draw[conn] (acctrule.east) -- (editbus.153.4);
  \draw[conn] (paysucc.east) -- (editbus.west);
  \draw[conn] (payfail.east) -- (editbus.206.6);
  \draw[conn] (editbus.east) -- (editq.west);
  \draw[conn] (editq.east) -- (editapi.west);
  \draw[conn] (editq.196.7) -- (editdlq.east);
  \draw[conn] (thirdparty.east) -- (request2.west);
  \draw[conn] (request2.east) -- (apigw2.west);
  \draw[conn] (apigw2.east) -- (alb.west);
  \draw[conn] (alb.east) -- (asg.west);
  \draw[conn] (trigger.west) -- (asg.east);
  \draw[conn] (asg.206.6) -- (asgbend) |- (metrics.west);
  \draw[conn] (metrics.east) -- (cloudwatch.west);
  \draw[conn] (cloudwatch.east) -| (cwbend) -- (trigger.east);
  \draw[conn] (alldlq.east) -- (cloudwatch2.west);
  \draw[conn] (cloudwatch2.east) -- (alarm.west);
  \draw[conn] (alarm.east) -- (sns.west);
  \draw[conn] (sns.east) -- (email.west);
\end{tikzpicture}
\end{document}
